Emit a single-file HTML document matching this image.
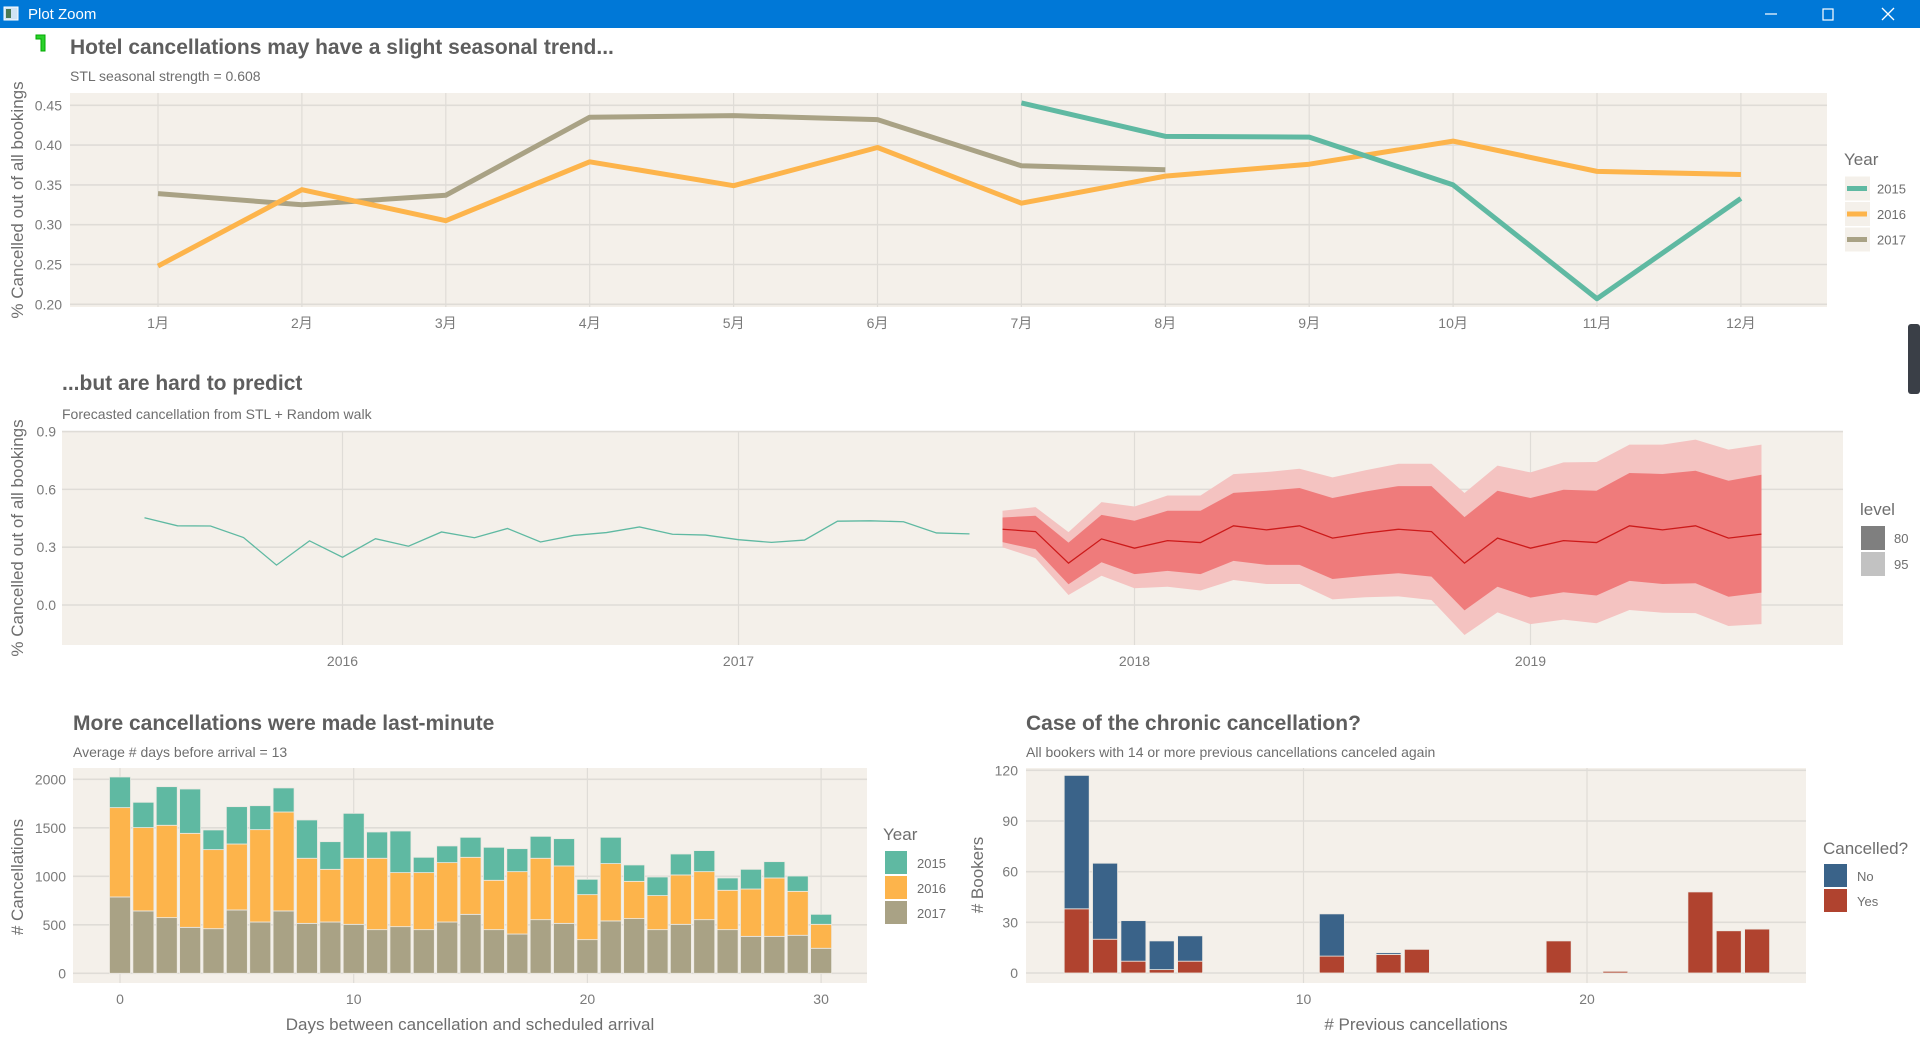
<!DOCTYPE html>
<html><head><meta charset="utf-8"><style>
html,body{margin:0;padding:0;background:#fff;width:1920px;height:1041px;overflow:hidden}
svg{display:block;font-family:"Liberation Sans","Noto Sans CJK SC",sans-serif}
</style></head><body>
<svg id="s" width="1920" height="1041" viewBox="0 0 1920 1041" xmlns="http://www.w3.org/2000/svg">
<g>
<rect x="0" y="0" width="1920" height="28" fill="#0078d7"/>
<rect x="4" y="7" width="14" height="13" fill="#cfe3f3" stroke="#fff" stroke-width="1"/>
<rect x="6" y="9" width="5" height="9" fill="#4a7a55"/>
<text x="28" y="19" fill="#fff" font-size="15">Plot Zoom</text>
<line x1="1765" y1="14" x2="1777" y2="14" stroke="#fff" stroke-width="1.2"/>
<rect x="1823" y="9" width="10" height="11" fill="none" stroke="#fff" stroke-width="1.2"/>
<path d="M1882 8 L1894 20 M1894 8 L1882 20" stroke="#fff" stroke-width="1.3"/>
</g>
<path d="M36 35 H45 V51 H41 V39 H36 Z" fill="#2bd12b" stroke="#0a0" stroke-width="1"/>
<rect x="1908" y="324" width="12" height="70" rx="3" fill="#3a3f47"/>
<g id="g1"></g><g id="g2"></g><g id="g3"></g><g id="g4"></g>
</svg>
<script>
// ---------- data ----------
const months = ['1月','2月','3月','4月','5月','6月','7月','8月','9月','10月','11月','12月'];
const yrs = ['2015','2016','2017'];
const s2015 = [null,null,null,null,null,null,0.453,0.411,0.410,0.350,0.207,0.333];
const s2016 = [0.248,0.344,0.305,0.379,0.349,0.397,0.327,0.361,0.376,0.405,0.367,0.363];
const s2017 = [0.339,0.325,0.337,0.435,0.437,0.432,0.374,0.369,null,null,null,null];
const topTicks = [0.20,0.25,0.30,0.35,0.40,0.45];

const histStart = 2015.5;
const histVals = [0.453,0.411,0.410,0.350,0.207,0.333,0.248,0.344,0.305,0.379,0.349,0.397,0.327,0.361,0.376,0.405,0.367,0.363,0.339,0.325,0.337,0.435,0.437,0.432,0.374,0.369];
const fcStart = 2017 + 8/12;
const fcMean = [.393,.381,.217,.343,.295,.334,.324,.411,.390,.411,.347,.373,.393,.381,.217,.347,.295,.334,.324,.411,.390,.411,.347,.368];
const fcHi80 = [.454,.463,.324,.468,.437,.489,.489,.582,.593,.607,.555,.589,.617,.617,.456,.593,.555,.598,.593,.685,.680,.697,.645,.676];
const fcLo80 = [.326,.289,.108,.222,.160,.177,.160,.229,.208,.208,.135,.152,.165,.147,-.028,.095,.038,.066,.049,.125,.109,.113,.043,.064];
const fcHi95 = [.489,.508,.378,.534,.511,.568,.568,.679,.690,.707,.662,.699,.733,.733,.581,.723,.688,.740,.742,.832,.832,.858,.806,.832];
const fcLo95 = [.300,.243,.052,.152,.087,.095,.075,.130,.109,.109,.029,.040,.045,.026,-.156,-.038,-.099,-.076,-.095,-.026,-.040,-.042,-.109,-.099];
const midTicks = [0.0,0.3,0.6,0.9];
const yearTicks = [2016,2017,2018,2019];

const days = [0,1,2,3,4,5,6,7,8,9,10,11,12,13,14,15,16,17,18,19,20,21,22,23,24,25,26,27,28,29,30];
const tot = [2024,1763,1924,1900,1478,1718,1728,1911,1581,1357,1649,1457,1467,1196,1313,1402,1299,1285,1412,1388,969,1402,1117,993,1230,1265,983,1072,1151,1003,608];
const top16 = [1708,1502,1526,1443,1275,1333,1481,1663,1186,1072,1186,1186,1038,1038,1141,1196,959,1048,1186,1107,811,1131,948,801,1014,1048,856,869,983,845,505];
const c2017 = [787,643,574,474,460,653,529,643,515,529,505,450,481,450,529,608,450,405,553,515,347,540,564,450,505,553,450,381,381,392,258];
const blTicks = [0,500,1000,1500,2000];
const dayTicks = [0,10,20,30];

const prev = [2,3,4,5,6,11,13,14,19,21,24,25,26];
const yesV = [38,20,7,2,7,10,11,14,19,1,48,25,26];
const noV = [79,45,24,17,15,25,1,0,0,0,0,0,0];
const brTicks = [0,30,60,90,120];
const prevTicks = [10,20];

// ---------- helpers ----------
const NS='http://www.w3.org/2000/svg';
function mk(parent, tag, attrs, txt){const e=document.createElementNS(NS,tag);for(const k in attrs)e.setAttribute(k,attrs[k]);if(txt!==undefined)e.textContent=txt;parent.appendChild(e);return e;}
const BG='#f4f0ea', GRID='#dfdcd7', TXT='#6e6e6e', TICK='#7a7a7a';
function panel(g,x0,y0,x1,y1){const r=mk(g,'rect',{x:x0,y:y0,width:x1-x0,height:y1-y0,fill:BG});

}
function hline(g,x0,x1,y){const l=mk(g,'line',{x1:x0,x2:x1,y1:y,y2:y,stroke:GRID,'stroke-width':1.6});

}
function vline(g,x,y0,y1){const l=mk(g,'line',{x1:x,x2:x,y1:y0,y2:y1,stroke:GRID,'stroke-width':1.2});

}
function txt(g,x,y,s,size,fill,anchor,name,extra){const t=mk(g,'text',Object.assign({x:x,y:y,'font-size':size,fill:fill,'text-anchor':anchor||'start'},extra||{}),s);

return t;}

// ---------- chart 1 ----------
(function(){
const g=document.getElementById('g1');
const X0=70,X1=1827,Y0=93,Y1=307;
const xm=i=>158+i*143.9;
const ym=v=>105.3+(0.45-v)/0.25*199;
txt(g,70,54,'Hotel cancellations may have a slight seasonal trend...',21,'#5e5e5e','start','chart1-title',{'font-weight':'bold'});
txt(g,70,81,'STL seasonal strength = 0.608',14,TXT,'start','chart1-subtitle');
panel(g,X0,Y0,X1,Y1);
topTicks.forEach(v=>{hline(g,X0,X1,ym(v));txt(g,62,ym(v)+5,v.toFixed(2),14,TICK,'end','y-tick-label');});
months.forEach((m,i)=>{vline(g,xm(i),Y0,Y1);txt(g,xm(i),328,m,14,TICK,'middle','x-tick-label');});
txt(g,0,0,'% Cancelled out of all bookings',17,TXT,'middle','y-axis-title',{transform:'translate(23,200) rotate(-90)'});
const cols={'2015':'#5fb9a2','2016':'#fdb44b','2017':'#a9a285'};
[[s2017,'2017'],[s2016,'2016'],[s2015,'2015']].forEach(([arr,y])=>{
 let d='';arr.forEach((v,i)=>{if(v==null)return;d+=(d?'L':'M')+xm(i)+' '+ym(v)+' ';});
 const p=mk(g,'path',{d:d,fill:'none',stroke:cols[y],'stroke-width':5,'stroke-linejoin':'round'});
 
 
});
txt(g,1844,165,'Year',17,TXT,'start','legend-title');
yrs.forEach((y,i)=>{const cy=188.5+i*25.5;
 const r=mk(g,'rect',{x:1845,y:cy-12,width:25,height:24,fill:BG});
 
 
 mk(g,'rect',{x:1847,y:cy-2.5,width:20,height:5,fill:cols[y]});
 txt(g,1877,cy+5,y,13,TXT,'start','legend-label-'+y);
});
})();

// ---------- chart 2 ----------
(function(){
const g=document.getElementById('g2');
const X0=62,X1=1843,Y0=431,Y1=645;
const xt=t=>342.5+(t-2016)*396;
const yv=v=>605-v*192.7;
txt(g,62,390,'...but are hard to predict',21,'#5e5e5e','start','chart2-title',{'font-weight':'bold'});
txt(g,62,419,'Forecasted cancellation from STL + Random walk',14,TXT,'start','chart2-subtitle');
panel(g,X0,Y0,X1,Y1);
midTicks.forEach(v=>{hline(g,X0,X1,yv(v));txt(g,56,yv(v)+5,v.toFixed(1),14,TICK,'end','y-tick-label');});
yearTicks.forEach(t=>{vline(g,xt(t),Y0,Y1);txt(g,xt(t),666,String(t),14,TICK,'middle','x-tick-label');});
txt(g,0,0,'% Cancelled out of all bookings',17,TXT,'middle','y-axis-title',{transform:'translate(23,538) rotate(-90)'});
const fx=i=>xt(fcStart+i/12);
function band(hi,lo,col,name){let d='';hi.forEach((v,i)=>{d+=(i?'L':'M')+fx(i)+' '+yv(v)+' ';});
 for(let i=lo.length-1;i>=0;i--)d+='L'+fx(i)+' '+yv(lo[i])+' ';
 const p=mk(g,'path',{d:d+'Z',fill:col});
 
 }
band(fcHi95,fcLo95,'#f4c3c1','band-95');
band(fcHi80,fcLo80,'#ef7b7b','band-80');
let d='';fcMean.forEach((v,i)=>{d+=(i?'L':'M')+fx(i)+' '+yv(v)+' ';});
const m=mk(g,'path',{d:d,fill:'none',stroke:'#cc1a1a','stroke-width':1.3});


d='';histVals.forEach((v,i)=>{d+=(i?'L':'M')+xt(histStart+i/12)+' '+yv(v)+' ';});
const h=mk(g,'path',{d:d,fill:'none',stroke:'#5fb9a2','stroke-width':1.3});


txt(g,1860,515,'level',17,TXT,'start','legend-title');
[['80','#7f7f7f'],['95','#c2c2c2']].forEach(([l,c],i)=>{const y=526+i*26;
 const r=mk(g,'rect',{x:1861,y:y,width:24,height:24,fill:c});
 
 
 txt(g,1894,y+17,l,13,TXT,'start','legend-label-'+l);});
})();

// ---------- chart 3 ----------
(function(){
const g=document.getElementById('g3');
const X0=73,X1=867,Y0=768,Y1=983;
const xd=d=>120+d*23.37;
const yv=v=>973.3-v*0.0970;
const bw=21;
txt(g,73,730,'More cancellations were made last-minute',21,'#5e5e5e','start','chart3-title',{'font-weight':'bold'});
txt(g,73,757,'Average # days before arrival = 13',14,TXT,'start','chart3-subtitle');
panel(g,X0,Y0,X1,Y1);
blTicks.forEach(v=>{hline(g,X0,X1,yv(v));txt(g,66,yv(v)+5,String(v),14,TICK,'end','y-tick-label');});
dayTicks.forEach(t=>{vline(g,xd(t),Y0,Y1);txt(g,xd(t),1004,String(t),14,TICK,'middle','x-tick-label');});
txt(g,470,1030,'Days between cancellation and scheduled arrival',17,TXT,'middle','x-axis-title');
txt(g,0,0,'# Cancellations',17,TXT,'middle','y-axis-title',{transform:'translate(23,877) rotate(-90)'});
days.forEach((d,i)=>{
 const segs=[[0,c2017[i],'#a9a285','2017'],[c2017[i],top16[i],'#fdb44b','2016'],[top16[i],tot[i],'#5fb9a2','2015']];
 segs.forEach(([a,b,c,y])=>{const r=mk(g,'rect',{x:xd(d)-bw/2,y:yv(b),width:bw,height:yv(a)-yv(b),fill:c,stroke:'#ece9e2','stroke-width':0.8});
 
 });
});
txt(g,883,840,'Year',17,TXT,'start','legend-title');
[['2015','#5fb9a2'],['2016','#fdb44b'],['2017','#a9a285']].forEach(([l,c],i)=>{const y=851+i*25;
 const r=mk(g,'rect',{x:885,y:y,width:22,height:23,fill:c});
 
 
 txt(g,917,y+17,l,13,TXT,'start','legend-label-'+l);});
})();

// ---------- chart 4 ----------
(function(){
const g=document.getElementById('g4');
const X0=1026,X1=1806,Y0=768,Y1=983;
const xp=v=>1303.5+(v-10)*28.35;
const yv=v=>973-v*1.689;
const bw=25;
txt(g,1026,730,'Case of the chronic cancellation?',21,'#5e5e5e','start','chart4-title',{'font-weight':'bold'});
txt(g,1026,757,'All bookers with 14 or more previous cancellations canceled again',14,TXT,'start','chart4-subtitle');
panel(g,X0,Y0,X1,Y1);
brTicks.forEach(v=>{hline(g,X0,X1,yv(v));txt(g,1018,yv(v)+5,String(v),14,TICK,'end','y-tick-label');});
prevTicks.forEach(t=>{vline(g,xp(t),Y0,Y1);txt(g,xp(t),1004,String(t),14,TICK,'middle','x-tick-label');});
txt(g,1416,1030,'# Previous cancellations',17,TXT,'middle','x-axis-title');
txt(g,0,0,'# Bookers',17,TXT,'middle','y-axis-title',{transform:'translate(983,875) rotate(-90)'});
prev.forEach((p,i)=>{
 const y1=yesV[i],n=noV[i];
 const r=mk(g,'rect',{x:xp(p)-bw/2,y:yv(y1),width:bw,height:yv(0)-yv(y1),fill:'#b0432f',stroke:'#ece9e2','stroke-width':0.8});
 
 
 if(n>0){const r2=mk(g,'rect',{x:xp(p)-bw/2,y:yv(y1+n),width:bw,height:yv(y1)-yv(y1+n),fill:'#3a6389',stroke:'#ece9e2','stroke-width':0.8});
 
 }
});
txt(g,1823,854,'Cancelled?',17,TXT,'start','legend-title');
[['No','#3a6389'],['Yes','#b0432f']].forEach(([l,c],i)=>{const y=864+i*25;
 const r=mk(g,'rect',{x:1824,y:y,width:23,height:23,fill:c});
 
 
 txt(g,1857,y+17,l,13,TXT,'start','legend-label-'+l.toLowerCase());});
})();
</script>
</body></html>
